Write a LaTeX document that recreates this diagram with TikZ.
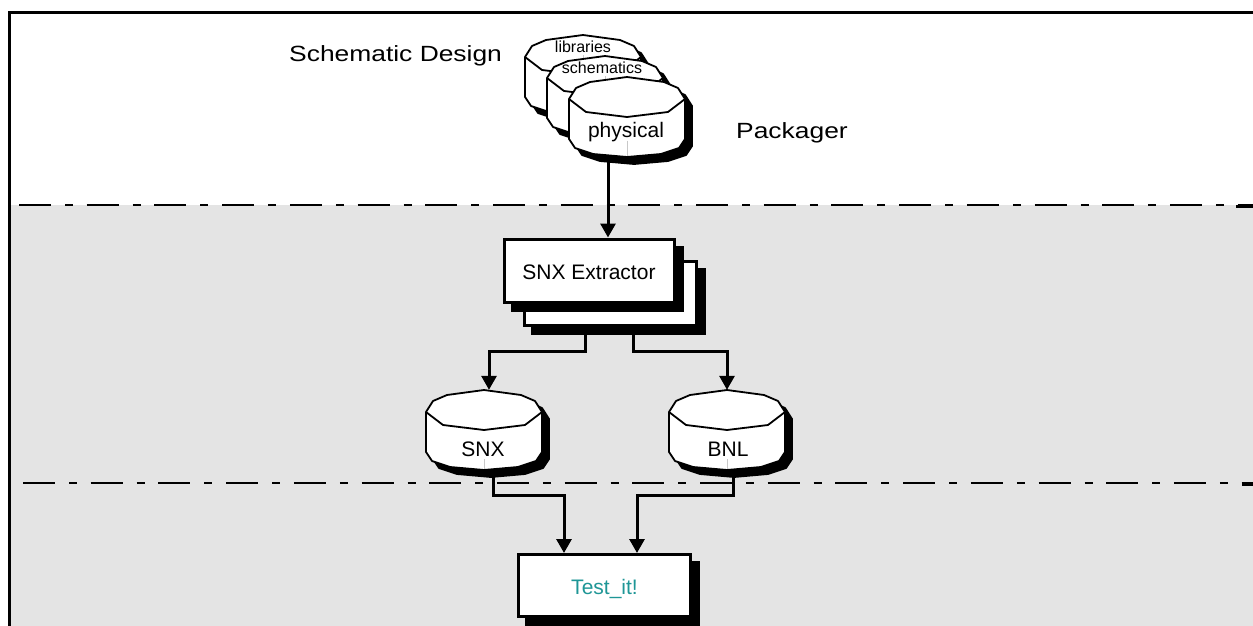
\documentclass[tikz,border=0pt]{standalone}
\usepackage{fontspec}
\setmainfont{Liberation Sans}
\newfontfamily\widesans{Liberation Sans}[FakeStretch=1.2]
\usetikzlibrary{arrows.meta, shadows}

\begin{document}
\begin{tikzpicture}[x=1pt, y=-1pt,
  procbox/.style={draw, line width=3pt, fill=white, inner sep=0pt,
    text height=18pt, text depth=0pt, font=\fontsize{21}{25}\selectfont,
    drop shadow={shadow xshift=8pt, shadow yshift=-8pt, fill=black, draw=black, opacity=1}},
  arr/.style={line width=3pt, -{Triangle[length=14pt, width=15pt]}},
  sepline/.style={line width=2pt, dash pattern=on 32pt off 14pt on 8pt off 13.7pt},
  bigtext/.style={font=\widesans\fontsize{22}{26}\selectfont, anchor=base west, inner sep=0pt}]
  % Define colors
  \definecolor{bggray}{RGB}{228,228,228}
  \definecolor{testteal}{RGB}{30,150,150}
  \definecolor{seamgray}{RGB}{200,200,200}

  \useasboundingbox (0,0) rectangle (1253,626);

  % Shaded lower area and the two separators
  \fill[bggray] (10,205) rectangle (1253,626);
  \draw[sepline] (19,205) -- (1253,205);
  \draw[sepline] (23,483) -- (1253,483);
  \draw[line width=3pt] (1236,206) -- (1253,206);
  \draw[line width=3pt] (1242,484) -- (1253,484);

  % Frame (top and left side)
  \draw[line width=3pt] (9.5,626) -- (9.5,12.5) -- (1253,12.5);

  % Stage labels
  \node[bigtext] (design) at (289,62) {Schematic Design};
  \node[bigtext] (packager) at (736,138) {Packager};

  % Database cylinders: name / left / top / text / text x / text baseline / size
  \foreach \name/\x/\y/\txt/\tx/\ty/\fs in {
    lib/525/35/libraries/58/17.5/16,
    sch/547/56/schematics/55/17.5/16,
    phys/569/77/physical/57/60.5/21,
    snx/426/390/SNX/57/66/21,
    bnl/669/390/BNL/59/66/21
  } {
    % shadow first, then the white body
    \foreach \off/\col in {7/black, 0/white} {
      \filldraw[fill=\col, line width=1.8pt, line join=round, shift={(\x+\off,\y+\off)}]
        (0,22) -- (7,11) -- (21,5) -- (58,0) -- (95,5) -- (109,11) -- (116,22)
        -- (116,62) -- (110,71) -- (92,77) -- (58,80) -- (24,77) -- (6,71) -- (0,62) -- cycle;
    }
    \draw[line width=1.8pt, line join=round, shift={(\x,\y)}]
      (0,22) -- (17,35) -- (58,40) -- (99,35) -- (116,22);
    \node[minimum width=116, minimum height=80, inner sep=0pt] (\name) at (\x+58, \y+40) {};
    \node[anchor=base, inner sep=0pt, font=\fontsize{\fs}{\fs}\selectfont] (\name-txt) at (\x+\tx, \y+\ty) {\txt};
    \draw[seamgray, line width=1pt] (\x+58, \y+\ty+3) -- (\x+58, \y+79);
  }

  % Processing boxes (the extractor is stacked)
  \node[procbox, minimum width=172, minimum height=64] (extrb) at (610.5,293.5) {};
  \node[procbox, minimum width=170, minimum height=63] (extr) at (589,270.5) {SNX Extractor};
  \node[procbox, minimum width=172, minimum height=62, text=testteal] (test) at (604.5,585.5) {Test\_it!};

  % Connectors
  \draw[arr] ([xshift=-19pt]phys.south) -- ([xshift=19pt]extr.north);
  \draw[arr] ([xshift=-25.5pt]extrb.south) -- ++(0,24.5) -| ([xshift=5pt]snx.north);
  \draw[arr] ([xshift=22.5pt]extrb.south) -- ++(0,24.5) -| (bnl.north);
  \draw[arr] ([xshift=9pt]snx.south) -- ++(0,25) -| ([xshift=-40.5pt]test.north);
  \draw[arr] ([xshift=6pt]bnl.south) -- ++(0,25) -| ([xshift=32.5pt]test.north);
\end{tikzpicture}
\end{document}
